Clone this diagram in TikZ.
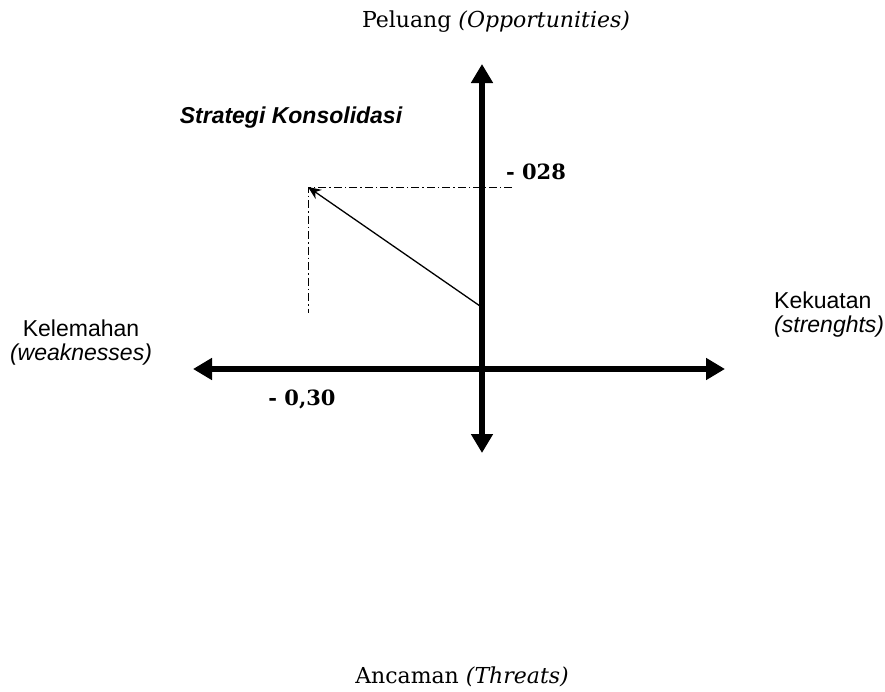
\documentclass[tikz,border=0pt]{standalone}
\usepackage{fontspec}
\setmainfont{DejaVu Serif}
\setsansfont{Liberation Sans}
\usetikzlibrary{arrows.meta}
\begin{document}
\begin{tikzpicture}[x=1pt,y=-1pt,
  axis/.style={line width=5.5pt,-{Triangle[width=21pt,length=19pt]}},
  vec/.style={line width=1.3pt,-{Stealth[width=11pt,length=13pt]}},
  guide/.style={line width=1pt,dash pattern=on 8pt off 3pt on 1.5pt off 3pt},
  serlab/.style={font=\fontsize{22}{26}\selectfont,inner sep=0pt},
  sanslab/.style={font=\sffamily\fontsize{23}{24}\selectfont,inner sep=0pt},
  numlab/.style={font=\bfseries\fontsize{21}{24}\selectfont,inner sep=0pt}]
\useasboundingbox (0,0) rectangle (885,691);
% axes
\coordinate (O) at (482,369);
\coordinate (top) at (482,64);
\coordinate (bot) at (482,453);
\coordinate (lft) at (193,369);
\coordinate (rgt) at (725,369);
\draw[axis] (O) -- (top);
\draw[axis] (O) -- (bot);
\draw[axis] (O) -- (lft);
\draw[axis] (O) -- (rgt);
\draw[line width=5.5pt] (482,366) -- (482,372);
% guide lines
\coordinate (P) at (308,187);
\coordinate (gh) at (512,187);
\coordinate (gv) at (308,313);
\coordinate (S) at (480,306);
\draw[guide] (gh) -- (P) -- (gv);
\draw[vec] (S) -- (P);
% labels
\node[serlab] (opp) at (496,22) {Peluang \textit{(Opportunities)}};
\node[serlab] (thr) at (462,677) {Ancaman \textit{(Threats)}};
\node[sanslab,font=\sffamily\bfseries\itshape\fontsize{23}{24}\selectfont] (str) at (291,118) {Strategi Konsolidasi};
\node[sanslab,anchor=west,align=left] (kek) at (774,315) {Kekuatan\\\textit{(strenghts)}};
\node[sanslab,align=center] (kel) at (81,343) {Kelemahan\\\textit{(weaknesses)}};
\node[numlab] (y) at (536,172) {- 028};
\node[numlab] (x) at (302,399) {- 0,30};
\end{tikzpicture}
\end{document}
